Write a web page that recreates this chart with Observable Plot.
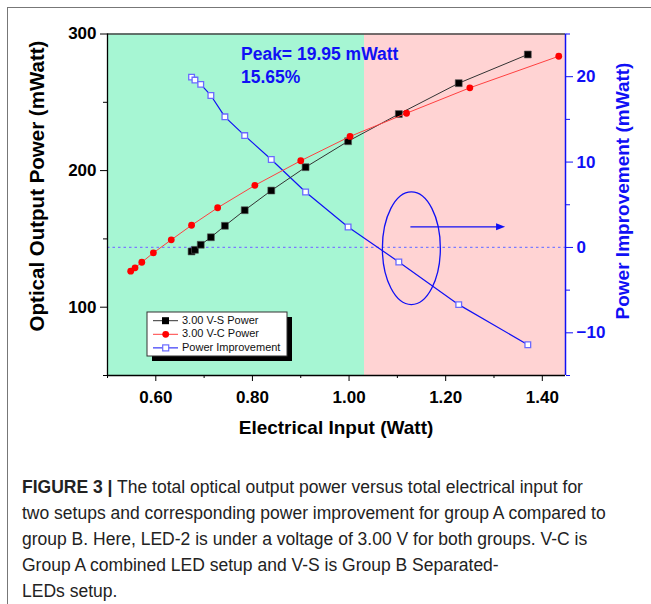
<!DOCTYPE html>
<html><head><meta charset="utf-8">
<script src="https://cdn.jsdelivr.net/npm/d3@7"></script>
<script src="https://cdn.jsdelivr.net/npm/@observablehq/plot@0.6"></script>
<style>
body{margin:0;background:#fff;width:651px;height:604px;overflow:hidden;position:relative;font-family:"Liberation Sans",Arial,sans-serif}
#frame{position:absolute;left:7px;top:7px;width:700px;height:700px;border-left:1.5px solid #777;border-top:1.5px solid #777}
#chart{position:absolute;left:0;top:0}
#caption{position:absolute;left:22px;top:474px;font-size:17.5px;line-height:26px;color:#222;white-space:nowrap}
</style></head><body>
<div id="frame"></div><div id="chart"></div>
<div id="caption"><b>FIGURE 3 |</b> The total optical output power versus total electrical input for<br>two setups and corresponding power improvement for group A compared to<br>group B. Here, LED-2 is under a voltage of 3.00 V for both groups. V-C is<br>Group A combined LED setup and V-S is Group B Separated-<br>LEDs setup.</div>
<script>
// 3.00 V-S (Group B, separated LEDs)
const vsInput = [0.674, 0.681, 0.693, 0.714, 0.743, 0.784, 0.839, 0.910, 0.998, 1.103, 1.227, 1.370];
const vsPower = [140.8, 142.0, 145.7, 151.2, 159.6, 171.0, 185.4, 202.5, 221.5, 241.4, 264.0, 285.0];
// 3.00 V-C (Group A, combined LED)
const vcInput = [0.548, 0.557, 0.571, 0.595, 0.632, 0.674, 0.728, 0.805, 0.900, 1.002, 1.119, 1.250, 1.434];
const vcPower = [126.4, 128.8, 132.9, 139.8, 149.3, 160.0, 172.8, 189.2, 207.2, 225.0, 242.0, 260.6, 283.7];
// Power improvement (right axis), at the V-S inputs
const improvement = [19.95, 19.6, 19.1, 17.8, 15.3, 13.1, 10.3, 6.5, 2.4, -1.7, -6.7, -11.4];

const xMajor = [0.6, 0.8, 1.0, 1.2, 1.4];
const xMinor = [0.5, 0.7, 0.9, 1.1, 1.3];
const yMajor = [100, 200, 300];
const yMinor = [50, 150, 250];
const y2Major = [20, 10, 0, -10];
const y2Minor = [25, 15, 5, -5, -15];
const legendLabels = ["3.00 V-S Power", "3.00 V-C Power", "Power Improvement"];
const peakLabel = ["Peak= 19.95 mWatt", "15.65%"];
const regionSplit = 1.032; // green (group A better) | pink

const xDomain = [0.5, 1.448];
const yDomain = [50, 300];
const y2Domain = [-15, 25];
// map right-axis value to left-axis units
const toL = v => yDomain[0] + (v - y2Domain[0]) * (yDomain[1] - yDomain[0]) / (y2Domain[1] - y2Domain[0]);
const fromL = v => y2Domain[0] + (v - yDomain[0]) * (y2Domain[1] - y2Domain[0]) / (yDomain[1] - yDomain[0]);

const vs = vsInput.map((x, i) => ({x, y: vsPower[i]}));
const vc = vcInput.map((x, i) => ({x, y: vcPower[i]}));
const imp = vsInput.map((x, i) => ({x, y: toL(improvement[i])}));
const regions = [{x1: xDomain[0], x2: regionSplit, c: "#a6f6d3"}, {x1: regionSplit, x2: xDomain[1], c: "#ffd3d3"}];

const BLUE = "#1010f5";
const font = "Liberation Sans, Arial, sans-serif";

const chart = Plot.plot({
  width: 651, height: 445,
  marginLeft: 107, marginRight: 86, marginTop: 33.5, marginBottom: 70,
  x: {domain: xDomain},
  y: {domain: yDomain},
  style: {fontFamily: font, background: "transparent", color: "black", overflow: "visible"},
  marks: [
    Plot.rect(regions, {x1: "x1", x2: "x2", y1: yDomain[0], y2: yDomain[1], fill: "c"}),
    Plot.ruleY([toL(0)], {stroke: "#7b7bff", strokeWidth: 1.3, strokeDasharray: "2.5,3"}),
    Plot.line(imp, {x: "x", y: "y", stroke: BLUE, strokeWidth: 1.2}),
    Plot.dot(imp, {x: "x", y: "y", symbol: "square", r: 3.2, fill: "white", stroke: "#6a6aff", strokeWidth: 1.3}),
    Plot.line(vs, {x: "x", y: "y", stroke: "#333", strokeWidth: 1}),
    Plot.dot(vs, {x: "x", y: "y", symbol: "square", r: 3.9, fill: "black", stroke: "#555", strokeWidth: 0.6}),
    Plot.line(vc, {x: "x", y: "y", stroke: "#ff4040", strokeWidth: 1}),
    Plot.dot(vc, {x: "x", y: "y", r: 3.4, fill: "#ff0000"}),
    // frame lines
    Plot.ruleY([yDomain[1]], {stroke: "#444", strokeWidth: 1.3}),
    Plot.ruleY([yDomain[0]], {stroke: "black", strokeWidth: 1.3}),
    Plot.ruleX([xDomain[0]], {stroke: "black", strokeWidth: 1.3}),
    Plot.ruleX([xDomain[1]], {stroke: BLUE, strokeWidth: 1.5}),
    // axes
    Plot.axisX({ticks: xMajor, tickFormat: d3.format(".2f"), tickSize: 6, tickPadding: 9, fontSize: 17, fontWeight: "bold", label: null}),
    Plot.axisX({ticks: xMinor, tickFormat: () => "", tickSize: 3, label: null}),
    Plot.axisY({ticks: yMajor, tickSize: 7, tickPadding: 4, fontSize: 17, fontWeight: "bold", label: null}),
    Plot.axisY({ticks: yMinor, tickFormat: () => "", tickSize: 4, label: null}),
    Plot.axisY({anchor: "right", ticks: y2Major.map(toL), tickFormat: d => d3.format("d")(Math.round(fromL(d))), tickSize: 7, tickPadding: 4, fontSize: 17, fontWeight: "bold", color: BLUE, label: null}),
    Plot.axisY({anchor: "right", ticks: y2Minor.map(toL), tickFormat: () => "", tickSize: 4, color: BLUE, label: null})
  ]
});
document.getElementById("chart").appendChild(chart);

const sx = chart.scale("x"), sy = chart.scale("y");
const svg = d3.select(chart);
// axis titles
svg.append("text").attr("x", 336).attr("y", 429).attr("text-anchor", "middle").attr("dominant-baseline", "middle")
  .attr("font-family", font).attr("font-size", 19).attr("font-weight", "bold").attr("fill", "black").text("Electrical Input (Watt)");
svg.append("text").attr("transform", "translate(39,186) rotate(-90)").attr("text-anchor", "middle").attr("dominant-baseline", "middle")
  .attr("font-family", font).attr("font-size", 20.5).attr("font-weight", "bold").attr("fill", "black").text("Optical Output Power (mWatt)");
svg.append("text").attr("transform", "translate(624,191) rotate(-90)").attr("text-anchor", "middle").attr("dominant-baseline", "middle")
  .attr("font-family", font).attr("font-size", 19).attr("font-weight", "bold").attr("fill", BLUE).text("Power Improvement (mWatt)");
// peak annotation
peakLabel.forEach((t, i) => svg.append("text").attr("x", 241).attr("y", 55 + i * 23).attr("text-anchor", "start").attr("dominant-baseline", "middle")
  .attr("font-family", font).attr("font-size", 17.5).attr("font-weight", "bold").attr("fill", BLUE).text(t));
// ellipse + arrow annotation (in data units)
const ell = {x: 1.13, y: -0.15, rx: 0.06, ry: 6.6};
const cx = sx.apply(ell.x), cy = sy.apply(toL(ell.y));
svg.append("ellipse").attr("cx", cx).attr("cy", cy)
  .attr("rx", sx.apply(ell.x + ell.rx) - cx).attr("ry", cy - sy.apply(toL(ell.y + ell.ry)))
  .attr("fill", "none").attr("stroke", BLUE).attr("stroke-width", 1.3);
const arr = {x1: 1.128, x2: 1.324, y: 2.35};
const ax1 = sx.apply(arr.x1), ax2 = sx.apply(arr.x2), ay = sy.apply(toL(arr.y));
svg.append("line").attr("x1", ax1).attr("x2", ax2 - 6).attr("y1", ay).attr("y2", ay).attr("stroke", BLUE).attr("stroke-width", 1.3);
svg.append("path").attr("d", `M${ax2},${ay}L${ax2 - 9},${ay - 3.5}L${ax2 - 9},${ay + 3.5}Z`).attr("fill", BLUE);
// legend
const lg = svg.append("g").attr("transform", "translate(147,312)");
lg.append("rect").attr("x", 5).attr("y", 5).attr("width", 140).attr("height", 44).attr("fill", "black");
lg.append("rect").attr("x", 0).attr("y", 0).attr("width", 140).attr("height", 44).attr("fill", "white").attr("stroke", "#333").attr("stroke-width", 1);
const lstyles = [{s: "#333"}, {s: "#ff4040"}, {s: BLUE}];
legendLabels.forEach((t, i) => {
  const yy = 8.7 + i * 13.6;
  lg.append("line").attr("x1", 6).attr("x2", 31).attr("y1", yy).attr("y2", yy).attr("stroke", lstyles[i].s).attr("stroke-width", 1);
  if (i === 0) lg.append("rect").attr("x", 15).attr("y", yy - 3.5).attr("width", 7).attr("height", 7).attr("fill", "black");
  if (i === 1) lg.append("circle").attr("cx", 18.7).attr("cy", yy).attr("r", 3.4).attr("fill", "#ff0000");
  if (i === 2) lg.append("rect").attr("x", 15.7).attr("y", yy - 3).attr("width", 6).attr("height", 6).attr("fill", "white").attr("stroke", "#6a6aff").attr("stroke-width", 1.2);
  lg.append("text").attr("x", 35).attr("y", yy).attr("text-anchor", "start").attr("dominant-baseline", "middle").attr("font-family", font)
    .attr("font-size", 11).attr("fill", "#111").text(t);
});
</script>
</body></html>
